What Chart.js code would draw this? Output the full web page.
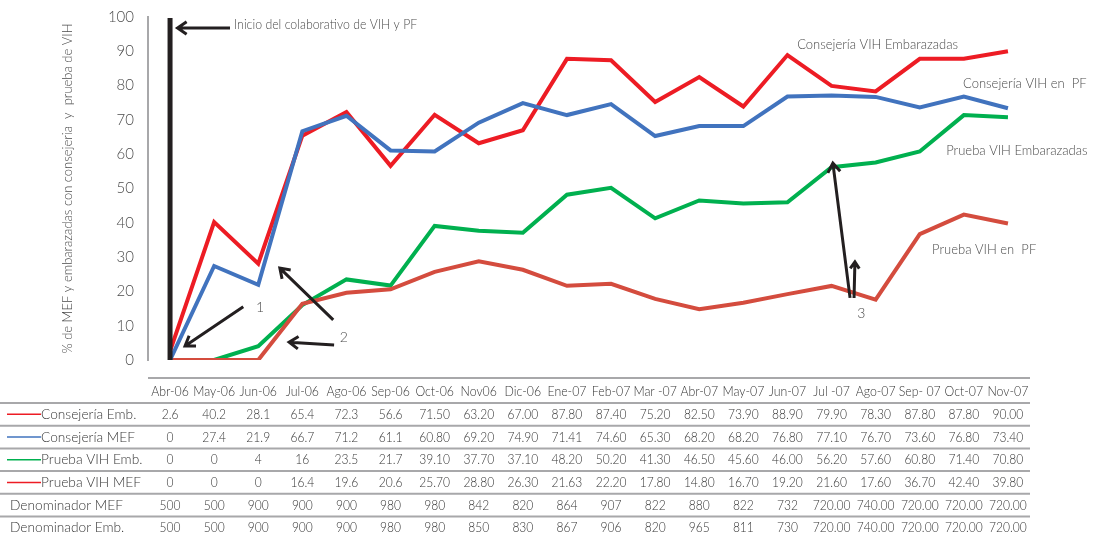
<!DOCTYPE html>
<html>
<head>
<meta charset="utf-8">
<script src="https://cdn.jsdelivr.net/npm/chart.js@4"></script>
<style>
  html, body { margin: 0; padding: 0; background: #fff; }
  #wrap { position: relative; width: 1094px; height: 539px; }
</style>
</head>
<body>
<div id="wrap"><canvas id="chart"></canvas></div>
<script>
// Months of the collaborative (as printed in the table header)
const categories = ['Abr-06', 'May-06', 'Jun-06', 'Jul-06', 'Ago-06', 'Sep-06', 'Oct-06', 'Nov06', 'Dic-06', 'Ene-07',
  'Feb-07', 'Mar -07', 'Abr-07', 'May-07', 'Jun-07', 'Jul -07', 'Ago-07', 'Sep- 07', 'Oct-07', 'Nov-07'];

// Percentages, kept as printed so the table and the lines share the same values
const consejeriaEmb = ['2.6', '40.2', '28.1', '65.4', '72.3', '56.6', '71.50', '63.20', '67.00', '87.80',
  '87.40', '75.20', '82.50', '73.90', '88.90', '79.90', '78.30', '87.80', '87.80', '90.00'];
const consejeriaMef = ['0', '27.4', '21.9', '66.7', '71.2', '61.1', '60.80', '69.20', '74.90', '71.41',
  '74.60', '65.30', '68.20', '68.20', '76.80', '77.10', '76.70', '73.60', '76.80', '73.40'];
const pruebaEmb = ['0', '0', '4', '16', '23.5', '21.7', '39.10', '37.70', '37.10', '48.20',
  '50.20', '41.30', '46.50', '45.60', '46.00', '56.20', '57.60', '60.80', '71.40', '70.80'];
const pruebaMef = ['0', '0', '0', '16.4', '19.6', '20.6', '25.70', '28.80', '26.30', '21.63',
  '22.20', '17.80', '14.80', '16.70', '19.20', '21.60', '17.60', '36.70', '42.40', '39.80'];

// Denominators (table only)
const denominadorMef = ['500', '500', '900', '900', '900', '980', '980', '842', '820', '864',
  '907', '822', '880', '822', '732', '720.00', '740.00', '720.00', '720.00', '720.00'];
const denominadorEmb = ['500', '500', '900', '900', '900', '980', '980', '850', '830', '867',
  '906', '820', '965', '811', '730', '720.00', '740.00', '720.00', '720.00', '720.00'];

const yTicks = [0, 10, 20, 30, 40, 50, 60, 70, 80, 90, 100];

const RED = '#ED1C24';
const BLUE = '#4173BE';
const GREEN = '#00B04F';
const BRICK = '#D44C3E';
const INK = '#231F20';
const GRID = '#A8A8AA';
const TEXT = '#363636';
const AXIS_TEXT = '#4C4C4C';
const FONT = 'Lato, "Open Sans", sans-serif';
const WEIGHT = '300';

const num = arr => arr.map(v => parseFloat(v));

// Table rows under the plot: [legend colour or null, label, values]
const tableRows = [
  [RED, 'Consejería Emb.', consejeriaEmb],
  [BLUE, 'Consejería MEF', consejeriaMef],
  [GREEN, 'Prueba VIH Emb.', pruebaEmb],
  [RED, 'Prueba VIH MEF', pruebaMef],
  [null, 'Denominador MEF', denominadorMef],
  [null, 'Denominador Emb.', denominadorEmb],
];

// Series captions next to the lines, in data units (category index, %)
const lineLabels = [
  ['Consejería VIH Embarazadas', 14.22, 92.1],
  ['Consejería VIH en  PF', 17.98, 80.5],
  ['Prueba VIH Embarazadas', 17.6, 61.2],
  ['Prueba VIH en  PF', 17.28, 32.1],
];

// Arrows: [tailX, tailY, tipX, tipY, head size]
const arrows = [
  [1.36, 96.8, 0.17, 96.8, 11],
  [1.66, 15.5, 0.34, 4.1, 11],
  [3.70, 11.7, 2.49, 26.8, 11],
  [3.72, 4.4, 2.70, 5.2, 11],
  [15.42, 18.1, 15.03, 57.4, 11],
  [15.51, 18.1, 15.53, 28.6, 8],
];
const notes = [
  ['Inicio del colaborativo de VIH y PF', 1.45, 97.7, 0.88],
  ['1', 1.95, 15.2, 1],
  ['2', 3.85, 6.7, 1],
  ['3', 15.58, 13.6, 1],
];

// narrow the glyphs a little, the printed face is a condensed humanist sans
function text(ctx, t, x, y, sx) {
  ctx.save();
  ctx.translate(x, y);
  ctx.scale(sx, 1);
  ctx.fillText(t, 0, 0);
  ctx.restore();
}

function drawArrow(ctx, x1, y1, x2, y2, head) {
  const a = Math.atan2(y2 - y1, x2 - x1);
  ctx.beginPath();
  ctx.moveTo(x1, y1);
  ctx.lineTo(x2, y2);
  ctx.moveTo(x2 - head * Math.cos(a - 0.6), y2 - head * Math.sin(a - 0.6));
  ctx.lineTo(x2, y2);
  ctx.lineTo(x2 - head * Math.cos(a + 0.6), y2 - head * Math.sin(a + 0.6));
  ctx.stroke();
}

const annotationsPlugin = {
  id: 'annotations',
  afterDatasetsDraw(chart) {
    const { ctx, scales: { x, y } } = chart;
    ctx.save();
    // start of the collaborative
    ctx.strokeStyle = INK;
    ctx.lineWidth = 5;
    ctx.beginPath();
    ctx.moveTo(x.getPixelForValue(0), y.getPixelForValue(0));
    ctx.lineTo(x.getPixelForValue(0), y.getPixelForValue(100) + 1);
    ctx.stroke();

    ctx.lineWidth = 3;
    arrows.forEach(([tx, ty, hx, hy, s]) => {
      drawArrow(ctx, x.getPixelForValue(tx), y.getPixelForValue(ty), x.getPixelForValue(hx), y.getPixelForValue(hy), s);
    });

    ctx.fillStyle = AXIS_TEXT;
    ctx.font = WEIGHT + ' 14px ' + FONT;
    ctx.textBaseline = 'middle';
    ctx.textAlign = 'left';
    notes.forEach(([t, nx, ny, sx]) => text(ctx, t, x.getPixelForValue(nx), y.getPixelForValue(ny), sx));
    lineLabels.forEach(([t, nx, ny]) => text(ctx, t, x.getPixelForValue(nx), y.getPixelForValue(ny), 0.93));
    ctx.restore();
  },
};

const tablePlugin = {
  id: 'dataTable',
  afterDraw(chart) {
    const { ctx, chartArea, scales: { x } } = chart;
    const top = chartArea.bottom + 18;
    const headH = 25;
    const rowH = 22.7;
    ctx.save();
    ctx.strokeStyle = GRID;
    ctx.lineWidth = 2;
    ctx.beginPath();
    ctx.moveTo(chartArea.left, top);
    ctx.lineTo(chartArea.right, top);
    for (let r = 0; r < tableRows.length; r++) {
      const ly = top + headH + r * rowH;
      ctx.moveTo(0, ly);
      ctx.lineTo(chartArea.right, ly);
    }
    ctx.stroke();

    ctx.fillStyle = TEXT;
    ctx.font = WEIGHT + ' 14px ' + FONT;
    ctx.textBaseline = 'middle';
    ctx.textAlign = 'center';
    categories.forEach((c, i) => text(ctx, c, x.getPixelForValue(i), top + 13, 0.88));

    tableRows.forEach(([color, label, vals], r) => {
      const cy = top + headH + r * rowH + rowH / 2;
      ctx.textAlign = 'left';
      if (color) {
        ctx.strokeStyle = color;
        ctx.lineWidth = 1.5;
        ctx.beginPath();
        ctx.moveTo(7, cy);
        ctx.lineTo(41, cy);
        ctx.stroke();
        text(ctx, label, 41, cy, 0.98);
      } else {
        text(ctx, label, 10, cy, 0.98);
      }
      ctx.textAlign = 'center';
      vals.forEach((v, i) => text(ctx, v, x.getPixelForValue(i), cy, 0.86));
    });
    ctx.restore();
  },
};

const line = (label, data, color, order) => ({
  label, data: num(data), borderColor: color, backgroundColor: color,
  borderWidth: 4, pointRadius: 0, tension: 0, order, borderJoinStyle: 'miter',
});

new Chart(document.getElementById('chart'), {
  type: 'line',
  data: {
    labels: categories,
    datasets: [
      line('Consejería Emb.', consejeriaEmb, RED, 1),
      line('Consejería MEF', consejeriaMef, BLUE, 0),
      line('Prueba VIH Emb.', pruebaEmb, GREEN, 3),
      line('Prueba VIH MEF', pruebaMef, BRICK, 2),
    ],
  },
  options: {
    responsive: true,
    maintainAspectRatio: false,
    animation: false,
    layout: { padding: { left: 55, top: 17, right: 64, bottom: 179 } },
    plugins: { legend: { display: false }, tooltip: { enabled: false } },
    scales: {
      x: { display: false, offset: true },
      y: {
        min: 0, max: 100,
        afterFit(scale) {
          scale.width = 93;
          scale.paddingTop = 0;
          scale.paddingBottom = 0;
        },
        afterBuildTicks(scale) { scale.ticks = yTicks.map(v => ({ value: v })); },
        grid: { display: false, drawTicks: false },
        border: { color: GRID, width: 2 },
        ticks: { padding: 14, color: AXIS_TEXT, font: { family: FONT, size: 15, weight: WEIGHT } },
        title: {
          display: true,
          text: '% de MEF y embarazadas con consejeria  y  prueba de VIH',
          color: AXIS_TEXT,
          font: { family: FONT, size: 13, weight: WEIGHT },
          padding: { top: 5, bottom: 0 },
        },
      },
    },
  },
  plugins: [annotationsPlugin, tablePlugin],
});
</script>
</body>
</html>
